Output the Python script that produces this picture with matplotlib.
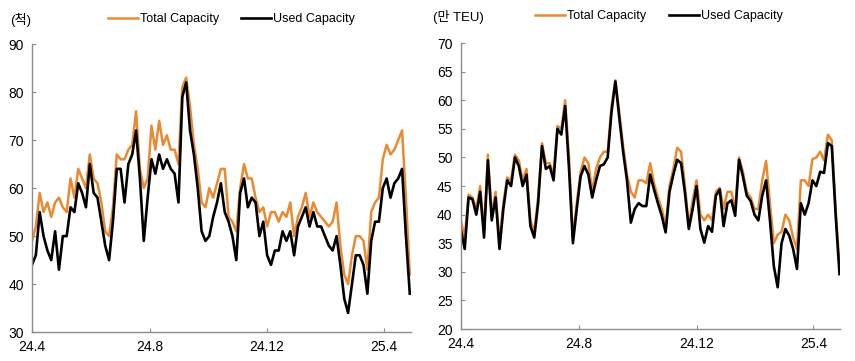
import pandas as pd
import matplotlib as mpl
from matplotlib import pyplot as plt

plt.rcParams['font.family'] = ['Liberation Sans', 'Noto Sans CJK KR']

#######################################################################
# data, one reading every 4 days from 2024-04-01
dates = pd.date_range('2024-04-01', periods=99, freq='4D')

# left panel: number of ships (척)
ships_total = [49, 52, 59, 55, 57, 54, 57, 58, 56, 55,
               62, 58, 64, 62, 60, 67, 62, 61, 57, 51,
               50, 56, 67, 66, 66, 68, 69, 76, 64, 60,
               62, 73, 68, 74, 69, 71, 68, 68, 65, 81,
               83, 77, 69, 64, 57, 56, 60, 58, 61, 64,
               64, 54, 53, 51, 60, 65, 62, 62, 58, 55,
               56, 52, 55, 55, 53, 55, 54, 57, 50, 54,
               56, 59, 54, 57, 55, 54, 53, 52, 53, 57,
               48, 42, 40, 46, 50, 50, 49, 43, 55, 57,
               58, 66, 69, 67, 68, 70, 72, 58, 42]
ships_used = [44, 46, 55, 50, 47, 45, 51, 43, 50, 50,
              56, 55, 61, 59, 56, 65, 59, 58, 53, 48,
              45, 53, 64, 64, 57, 65, 67, 72, 62, 49,
              58, 66, 63, 67, 64, 66, 64, 63, 57, 79,
              82, 72, 67, 60, 51, 49, 50, 54, 57, 61,
              55, 53, 50, 45, 59, 62, 56, 58, 57, 50,
              53, 46, 44, 47, 47, 51, 49, 51, 46, 52,
              54, 56, 52, 55, 52, 52, 50, 48, 47, 50,
              44, 37, 34, 40, 46, 46, 44, 38, 49, 53,
              53, 60, 62, 58, 61, 62, 64, 50, 38]

# right panel: capacity (만 TEU)
teu_total = [39, 36, 43.5, 43, 41, 45, 37, 50.5, 40, 44,
             35, 42, 46.5, 46, 50.5, 49.5, 46, 48, 39, 37,
             43, 52.5, 49, 49, 47, 55.5, 55, 60, 50, 36,
             42, 47.5, 50, 49, 44, 48, 50, 51, 51, 59,
             63.5, 58, 52, 47, 44, 43, 46, 46, 45.5, 49,
             45.5, 43, 41, 38, 45, 48, 51.7, 51, 45, 38,
             42.5, 46, 40, 39, 40, 39, 44, 44.7, 41, 44,
             44, 41, 50, 47.5, 44, 43, 41, 41, 46, 49.4,
             42, 35, 36.5, 37, 40, 39, 36, 34, 46, 46,
             45, 49.7, 50, 51, 49.5, 54, 53, 41, 31]
teu_used = [37.4, 34, 43, 42.7, 40, 44, 36, 49.5, 39, 43,
            34, 41, 46, 45, 50, 48.5, 45, 47, 38, 36,
            42, 52, 48, 48.5, 46, 55, 54, 59, 48, 35,
            41, 46.7, 48.5, 47, 43, 46, 48.5, 48.8, 50, 58,
            63.3, 57, 51, 46, 38.6, 41, 42, 41.5, 41.5, 47,
            44.4, 42, 39.8, 36.9, 44, 47, 49.6, 49, 43.8, 37.5,
            41, 45, 37.5, 35.1, 38, 37, 43.3, 44.4, 38, 42,
            42.5, 39.8, 49.6, 46.7, 43.3, 42.4, 40, 39, 43.3, 46,
            39, 31, 27.3, 35, 37.5, 36.3, 34, 30.5, 42, 40,
            42, 46, 45, 47.5, 47.3, 52.5, 52, 40, 29.6]

tick_dates = pd.to_datetime(['2024-04-01', '2024-08-01', '2024-12-01', '2025-04-01'])
tick_labels = ['24.4', '24.8', '24.12', '25.4']
#######################################################################

orange = '#E98A32'
grey = '#8C8C8C'

fig = plt.figure(figsize=(8.55, 3.61), dpi=100)
ax1 = fig.add_axes([0.0374, 0.080, 0.443, 0.798])
ax2 = fig.add_axes([0.539, 0.0886, 0.444, 0.792])

panels = [
    (ax1, ships_total, ships_used, (30, 90), range(30, 91, 10), '(척)', 0.012, 0.945, 0.113, 0.947),
    (ax2, teu_total, teu_used, (20, 70), range(20, 71, 5), '(만 TEU)', 0.506, 0.952, 0.613, 0.955),
]

for ax, total, used, ylim, yticks, unit, ux, uy, lx, ly in panels:
    ax.plot(dates, total, color=orange, lw=1.8, label='Total Capacity')
    ax.plot(dates, used, color='black', lw=1.9, label='Used Capacity')
    ax.set_ylim(*ylim)
    ax.set_yticks(list(yticks))
    ax.set_xlim(dates[0], dates[-1] + pd.Timedelta(days=1))
    ax.set_xticks(tick_dates)
    ax.set_xticklabels(tick_labels)
    for s in ['top', 'right']:
        ax.spines[s].set_visible(False)
    for s in ['left', 'bottom']:
        ax.spines[s].set_color(grey)
        ax.spines[s].set_linewidth(1.0)
    ax.tick_params(direction='in', length=3, color=grey, labelsize=10, pad=6)
    fig.text(ux, uy, unit, fontsize=9.5, ha='left', va='center')
    fig.legend(*ax.get_legend_handles_labels(), loc='center left', bbox_to_anchor=(lx, ly),
               ncol=2, frameon=False, fontsize=9, handlelength=2.4, handletextpad=0.15,
               columnspacing=1.8)

fig.savefig('out.png', dpi=100)
